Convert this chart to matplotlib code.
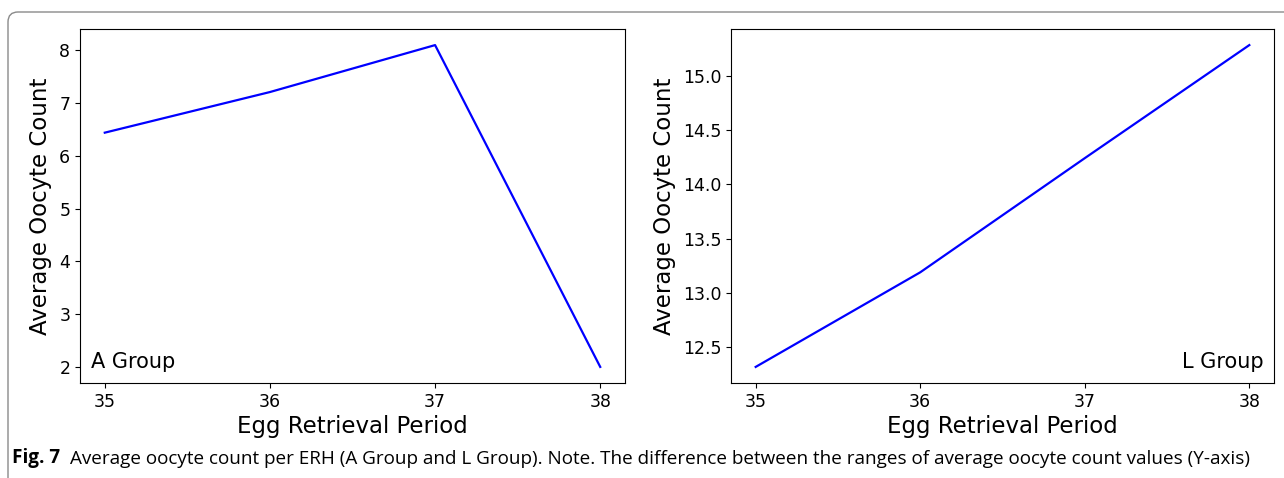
import matplotlib
matplotlib.use("Agg")
import matplotlib.pyplot as plt
from matplotlib.patches import FancyBboxPatch
from matplotlib.transforms import IdentityTransform

# Data
periods = [35, 36, 37, 38]
a_group = [6.44, 7.21, 8.10, 2.00]
l_group = [12.32, 13.19, 14.24, 15.28]
x_label = "Egg Retrieval Period"
y_label = "Average Oocyte Count"
caption_head = "Fig. 7"
caption_body = ("Average oocyte count per ERH (A Group and L Group). Note. "
                "The difference between the ranges of average oocyte count values (Y-axis)")

fig = plt.figure(figsize=(12.84, 4.78), dpi=100)

# Rounded frame around the figure panel
frame = FancyBboxPatch((8, -30), 1320, 478 - 12 + 30,
                       boxstyle="round,pad=0,rounding_size=10",
                       transform=IdentityTransform(), fill=False,
                       edgecolor="#8a8a8a", linewidth=1.0)
fig.patches.append(frame)

ax1 = fig.add_axes([80 / 1284, 1 - 383 / 478, 545 / 1284, 354 / 478])
ax2 = fig.add_axes([731 / 1284, 1 - 383 / 478, 543 / 1284, 354 / 478])

ax1.plot(periods, a_group, color="blue", linewidth=1.6)
ax2.plot(periods, l_group, color="blue", linewidth=1.6)

ax1.set_yticks([2, 3, 4, 5, 6, 7, 8])
ax2.set_yticks([12.5, 13.0, 13.5, 14.0, 14.5, 15.0])

for ax in (ax1, ax2):
    ax.set_xticks(periods)
    ax.set_xlabel(x_label, fontsize=16.5, labelpad=3)
    ax.set_ylabel(y_label, fontsize=16.5, labelpad=5)
    ax.tick_params(labelsize=12.5)

ax1.text(0.02, 0.03, "A Group", transform=ax1.transAxes, fontsize=15,
         ha="left", va="bottom")
ax2.text(0.98, 0.03, "L Group", transform=ax2.transAxes, fontsize=15,
         ha="right", va="bottom")

# Caption
t1 = fig.text(12 / 1284, 1 - 458 / 478, caption_head, fontsize=13.6,
              fontweight="bold", family="Open Sans", va="center", ha="left")
ax1.annotate(caption_body, xy=(1, 0), xycoords=t1, xytext=(7, 0),
             textcoords="offset points", fontsize=13.6, family="Open Sans",
             va="bottom", ha="left", annotation_clip=False)

fig.savefig("out.png", dpi=100)
